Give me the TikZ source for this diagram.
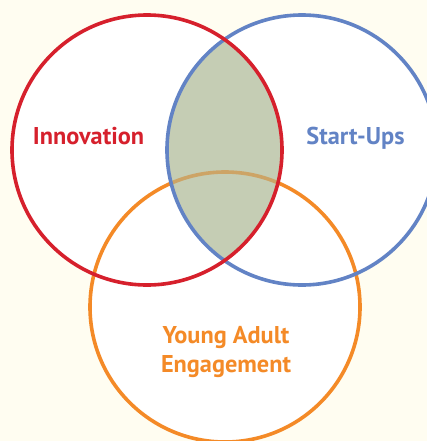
\documentclass[tikz,border=0pt]{standalone}
\usepackage{fontspec}
\setsansfont{PT Sans}
\definecolor{innored}{HTML}{D6202C}
\definecolor{startblue}{HTML}{6283C5}
\definecolor{youngorange}{HTML}{F48A27}
\definecolor{lensgreen}{HTML}{C5CDB4}
\definecolor{lensarc}{HTML}{CDA466}
\definecolor{paper}{HTML}{FFFDF1}
\begin{document}
\begin{tikzpicture}[x=1pt,y=-1pt,
  ring/.style={line width=3.6pt},
  setlabel/.style={font=\sffamily\bfseries\fontsize{24.3}{28}\selectfont, anchor=base}]
  \fill[paper] (0,0) rectangle (427,441);
  \clip (0,0) rectangle (427,441);
  \coordinate (inno) at (147,150);
  \coordinate (start) at (302,150);
  \coordinate (young) at (225,307);
  % white insides
  \fill[white] (inno) circle (135pt);
  \fill[white] (start) circle (135pt);
  \fill[white] (young) circle (135pt);
  \draw[ring, youngorange] (young) circle (135pt);
  % shared part of innovation and start-ups
  \begin{scope}
    \clip (inno) circle (135pt);
    \fill[lensgreen] (start) circle (135pt);
    \clip (start) circle (135pt);
    \draw[ring, lensarc] (young) circle (135pt);
  \end{scope}
  \draw[ring, startblue] (start) circle (135pt);
  \draw[ring, innored] (inno) circle (135pt);
  % labels
  \node[setlabel, innored] (innolabel) at (88.5,144) {Innovation};
  \node[setlabel, startblue] (startlabel) at (355.5,144) {Start-Ups};
  \node[setlabel, youngorange] (younglabel) at (226,343) {Young Adult};
  \node[setlabel, youngorange] (engagelabel) at (226,372) {Engagement};
\end{tikzpicture}
\end{document}
